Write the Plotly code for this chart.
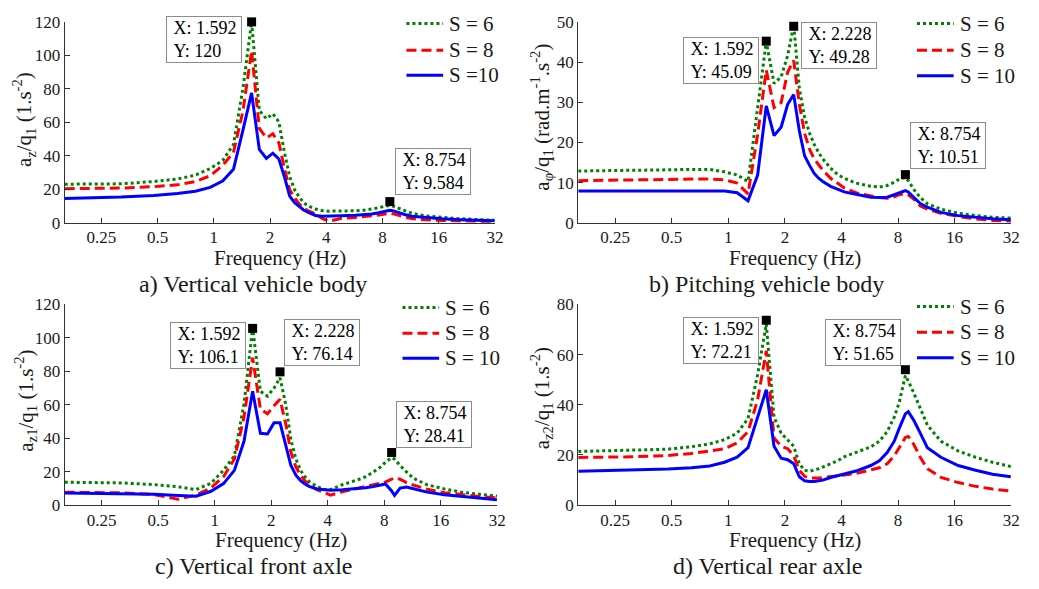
import math
import plotly.graph_objects as go

# ---------------- data ----------------
freq_hz = [0.159, 0.318, 0.477, 0.637, 0.796, 0.955, 1.114, 1.273, 1.432, 1.592,
           1.751, 1.910, 2.069, 2.228, 2.387, 2.546, 2.706, 2.865, 3.024, 3.183,
           3.501, 3.820, 4.138, 4.775, 5.730, 6.366, 7.003, 7.639, 8.117, 8.754,
           9.072, 9.708, 10.504, 11.459, 13.528, 16.711, 20.690, 25.465, 31.831]

# a) Vertical vehicle body
a_s6 = [23.1, 23.3, 24.7, 26.2, 28.5, 32.4, 37.2, 46.8, 80.5, 120.0,
        67.0, 62.2, 65.1, 60.3, 42.0, 27.6, 19.8, 15.4, 12.1, 10.2,
        8.3, 7.3, 7.0, 7.0, 7.2, 7.6, 8.2, 9.0, 9.8, 10.4,
        10.0, 8.8, 7.2, 5.8, 4.2, 3.2, 2.5, 2.0, 1.6]
a_s8 = [20.4, 20.8, 21.6, 22.7, 24.7, 28.1, 34.3, 42.0, 67.0, 102.7,
        56.4, 50.7, 53.2, 47.8, 32.4, 19.8, 15.0, 11.2, 8.7, 7.3,
        5.4, 2.5, 1.0, 2.6, 3.2, 3.6, 4.1, 4.7, 5.2, 5.8,
        5.5, 4.5, 3.4, 2.6, 1.8, 1.4, 1.1, 0.9, 0.7]
a_s10 = [14.6, 15.4, 16.4, 17.5, 18.9, 21.2, 25.0, 32.0, 55.5, 77.6,
         43.9, 38.5, 41.6, 38.1, 27.5, 16.0, 12.1, 9.6, 7.7, 6.4,
         4.4, 3.9, 3.9, 4.2, 4.5, 4.8, 5.3, 6.0, 6.6, 7.5,
         7.3, 6.2, 5.0, 4.0, 3.1, 2.4, 1.9, 1.5, 1.2]

# b) Pitching vehicle body
b_s6 = [12.9, 13.0, 13.2, 13.3, 13.3, 12.7, 11.9, 10.3, 28.0, 45.09,
        34.7, 36.3, 41.6, 49.28, 33.5, 26.3, 22.3, 19.5, 17.5, 15.9,
        13.6, 12.0, 11.1, 9.9, 9.1, 8.9, 9.3, 10.1, 10.9, 11.3,
        10.5, 8.3, 6.3, 4.8, 3.4, 2.4, 1.8, 1.4, 1.2]
b_s8 = [10.5, 10.6, 10.8, 10.9, 10.9, 10.7, 9.9, 7.2, 22.0, 38.0,
        28.7, 29.9, 37.5, 40.4, 29.5, 22.3, 18.3, 15.9, 14.3, 13.1,
        11.1, 9.9, 8.7, 7.5, 6.7, 6.3, 6.1, 6.5, 7.0, 7.3,
        7.0, 5.9, 4.2, 3.4, 2.4, 1.6, 1.0, 0.6, 0.4]
b_s10 = [7.9, 7.9, 7.9, 7.9, 7.9, 7.9, 7.5, 5.5, 11.9, 29.1,
         21.7, 23.8, 29.5, 31.9, 22.9, 16.7, 14.3, 12.3, 11.1, 10.3,
         9.1, 8.3, 7.7, 7.1, 6.4, 6.3, 6.4, 7.0, 7.5, 8.0,
         7.7, 6.3, 4.8, 3.9, 2.6, 1.8, 1.4, 1.0, 0.8]

# c) Vertical front axle
c_s6 = [13.7, 13.3, 12.3, 11.0, 9.3, 13.1, 20.8, 29.5, 60.4, 106.1,
        68.1, 65.2, 70.0, 76.14, 60.4, 39.2, 27.6, 20.8, 17.0, 14.1,
        11.2, 9.3, 9.3, 12.2, 15.0, 17.0, 19.9, 22.8, 25.7, 28.41,
        27.6, 23.7, 19.9, 16.0, 12.2, 9.7, 7.7, 6.4, 5.4]
c_s8 = [7.7, 7.4, 6.3, 3.5, 6.0, 10.4, 17.0, 27.6, 52.6, 88.2,
        57.5, 54.6, 59.4, 63.3, 48.8, 31.5, 22.8, 17.9, 14.5, 12.3,
        9.3, 7.4, 6.0, 8.0, 10.0, 11.0, 12.0, 13.0, 13.8, 15.5,
        16.4, 15.5, 13.5, 12.0, 9.5, 7.5, 6.2, 5.2, 4.3]
c_s10 = [7.3, 7.0, 6.5, 5.8, 5.4, 8.3, 12.9, 20.8, 38.2, 68.1,
         43.0, 42.6, 49.2, 49.2, 35.2, 23.7, 17.9, 14.7, 12.6, 11.2,
         9.7, 9.3, 8.9, 9.2, 9.8, 10.4, 11.2, 12.2, 12.7, 8.5,
         5.8, 10.2, 10.8, 9.8, 7.8, 6.2, 5.2, 4.2, 3.2]

# d) Vertical rear axle
d_s6 = [21.4, 21.8, 22.3, 23.3, 24.4, 26.1, 28.7, 34.5, 52.0, 72.21,
        35.1, 28.7, 26.1, 23.5, 16.5, 13.9, 13.5, 13.9, 14.5, 15.2,
        16.5, 17.7, 19.3, 21.0, 23.2, 25.5, 29.3, 35.1, 40.9, 51.65,
        49.5, 44.7, 38.3, 31.9, 25.5, 21.6, 19.1, 17.1, 15.4]
d_s8 = [19.0, 19.3, 19.8, 20.6, 21.6, 22.5, 24.8, 29.3, 42.0, 61.5,
        26.8, 23.5, 22.5, 19.7, 13.9, 11.5, 10.8, 10.7, 10.8, 11.0,
        11.3, 11.7, 12.0, 12.6, 13.9, 14.9, 16.5, 19.7, 22.9, 27.0,
        27.4, 24.2, 19.1, 14.5, 11.1, 9.0, 7.5, 6.4, 5.6]
d_s10 = [13.5, 14.0, 14.4, 14.9, 15.6, 17.1, 19.1, 22.9, 34.9, 46.0,
         23.5, 18.7, 18.1, 16.5, 11.3, 9.7, 9.4, 9.4, 9.7, 10.0,
         11.0, 11.7, 12.3, 13.6, 15.8, 17.7, 21.0, 25.5, 30.6, 36.4,
         37.3, 33.8, 28.7, 22.9, 19.1, 15.8, 13.9, 12.3, 11.3]

# data tips: X, Y label values and where the marker is drawn
tip_x = {'a': [1.592, 8.754], 'b': [1.592, 2.228, 8.754],
         'c': [1.592, 2.228, 8.754], 'd': [1.592, 8.754]}
tip_y = {'a': [120, 9.584], 'b': [45.09, 49.28, 10.51],
         'c': [106.1, 76.14, 28.41], 'd': [72.21, 51.65]}
tip_marker_y = {'a': [120, 12.7], 'b': [45.2, 48.9, 12.0],
                'c': [105.7, 79.7, 31.5], 'd': [73.7, 54.0]}

legend_names = {'a': ['S = 6', 'S = 8', 'S =10'],
                'b': ['S = 6', 'S = 8', 'S = 10'],
                'c': ['S = 6', 'S = 8', 'S = 10'],
                'd': ['S = 6', 'S = 8', 'S = 10']}

x_tick_vals = [0.25, 0.5, 1, 2, 4, 8, 16, 32]
x_tick_text = ['0.25', '0.5', '1', '2', '4', '8', '16', '32']
y_max = {'a': 120, 'b': 50, 'c': 120, 'd': 80}
y_step = {'a': 20, 'b': 10, 'c': 20, 'd': 20}

y_titles = {'a': 'a<sub>z</sub>/q<sub>1</sub> (1.s<sup>-2</sup>)',
            'b': 'a<sub>φ</sub>/q<sub>1</sub> (rad.m<sup>-1</sup>.s<sup>-2</sup>)',
            'c': 'a<sub>z1</sub>/q<sub>1</sub> (1.s<sup>-2</sup>)',
            'd': 'a<sub>z2</sub>/q<sub>1</sub> (1.s<sup>-2</sup>)'}
subtitles = {'a': 'a) Vertical vehicle body', 'b': 'b) Pitching vehicle body',
             'c': 'c) Vertical front axle', 'd': 'd) Vertical rear axle'}
x_title = 'Frequency (Hz)'

series = {'a': [a_s6, a_s8, a_s10], 'b': [b_s6, b_s8, b_s10],
          'c': [c_s6, c_s8, c_s10], 'd': [d_s6, d_s8, d_s10]}

# ---------------- styles / layout ----------------
W, H = 1039, 589
FONT = 'Liberation Serif'
INK = '#1a1a1a'
AX = '#333333'
line_styles = [dict(color='#008000', width=3, dash='dot'),
               dict(color='#ff0000', width=3, dash='10px,5px'),
               dict(color='#0000ff', width=3, dash='solid')]

def fx(p):
    return p / W

def fy(p):
    return 1 - p / H

# pixel boxes of plot areas: left, right, top, bottom
boxes = {'a': (65.3, 499.3, 13.3, 221.0), 'b': (583.3, 1020.0, 13.3, 221.0),
         'c': (65.3, 501.7, 305.3, 512.7), 'd': (583.3, 1020.0, 305.3, 512.7)}
# legend: line start x, rows centre y (px)
legend_x = {'a': 410, 'b': 925, 'c': 406, 'd': 925}
legend_rows = {'a': (15, 42.5, 68.5), 'b': (15, 42.5, 69),
               'c': (308.5, 335, 361), 'd': (307.5, 334, 360.5)}
LEG_LINE = 37
LEG_GAP = 5
ytitle_pos = {'a': (24, 114), 'b': (546, 112), 'c': (26, 405), 'd': (546, 402)}
xtitle_y = {'a': 257.5, 'b': 257.5, 'c': 549, 'd': 549}
sub_pos = {'a': (255, 284), 'b': (773.5, 284), 'c': (255.5, 576), 'd': (774, 576)}
tip_offsets = {'a': [(-48, 18), (43, -30)],
               'b': [(-45, 19), (45, 19), (43, -29)],
               'c': [(-45, 17), (42, -29), (42, -28)],
               'd': [(-45, 20), (-42, -27)]}

fig = go.Figure()
layout = dict(width=W, height=H, margin=dict(l=0, r=0, t=0, b=0),
              paper_bgcolor='white', plot_bgcolor='white',
              font=dict(family=FONT, color=INK), showlegend=False)
annotations = []
shapes = []

for i, key in enumerate(['a', 'b', 'c', 'd']):
    n = '' if i == 0 else str(i + 1)
    xa, ya = 'x' + n, 'y' + n
    l, r, t, b = boxes[key]
    layout['xaxis' + n] = dict(
        type='log', domain=[fx(l), fx(r)],
        range=[math.log10(freq_hz[0]), math.log10(32)],
        tickmode='array', tickvals=x_tick_vals, ticktext=x_tick_text,
        ticks='inside', ticklen=5, tickcolor=AX, tickwidth=1,
        ticklabelstandoff=-1,
        showline=True, linecolor=AX, linewidth=1, mirror=False,
        showgrid=False, zeroline=False, anchor=ya,
        tickfont=dict(family=FONT, size=17, color=INK))
    layout['yaxis' + n] = dict(
        domain=[fy(b), fy(t)], range=[0, y_max[key]],
        tickmode='array', tickvals=list(range(0, y_max[key] + 1, y_step[key])),
        ticks='inside', ticklen=5, tickcolor=AX, tickwidth=1,
        showline=True, linecolor=AX, linewidth=1, mirror=False,
        showgrid=False, zeroline=False, anchor=xa,
        tickfont=dict(family=FONT, size=17, color=INK))
    for s, vals in enumerate(series[key]):
        fig.add_trace(go.Scatter(x=freq_hz, y=vals, mode='lines',
                                 line=line_styles[s], name=legend_names[key][s],
                                 xaxis=xa, yaxis=ya, hoverinfo='skip'))
        # legend entry (drawn in paper space)
        lx0 = legend_x[key]
        ry = legend_rows[key][s]
        shapes.append(dict(type='line', xref='paper', yref='paper',
                           x0=fx(lx0), x1=fx(lx0 + LEG_LINE), y0=fy(ry), y1=fy(ry),
                           line=line_styles[s]))
        annotations.append(dict(x=fx(lx0 + LEG_LINE + LEG_GAP), y=fy(ry),
                                xref='paper', yref='paper', showarrow=False,
                                xanchor='left', yanchor='middle', borderpad=0,
                                text=legend_names[key][s],
                                font=dict(family=FONT, size=21, color=INK)))
    fig.add_trace(go.Scatter(x=tip_x[key], y=tip_marker_y[key], mode='markers',
                             marker=dict(symbol='square', size=9, color='black',
                                         line=dict(width=0)),
                             xaxis=xa, yaxis=ya, showlegend=False, cliponaxis=False,
                             hoverinfo='skip'))
    for (tx, ty, my), (ox, oy) in zip(zip(tip_x[key], tip_y[key], tip_marker_y[key]),
                                      tip_offsets[key]):
        annotations.append(dict(
            x=math.log10(tx), y=my, xref=xa, yref=ya, showarrow=False,
            xanchor='center', yanchor='middle', xshift=ox, yshift=-oy,
            text='\u00a0X: %g<br>\u00a0Y: %g' % (tx, ty), align='left',
            width=70, height=41, borderpad=2,
            bgcolor='white', bordercolor='#8c8c8c', borderwidth=1,
            font=dict(family=FONT, size=18, color='black')))
    # axis titles and subtitles
    yx, yy = ytitle_pos[key]
    annotations.append(dict(x=fx(yx), y=fy(yy), xref='paper', yref='paper',
                            text=y_titles[key], textangle=-90, showarrow=False,
                            xanchor='center', yanchor='middle',
                            font=dict(family=FONT, size=21, color=INK)))
    annotations.append(dict(x=fx((l + r) / 2), y=fy(xtitle_y[key]), xref='paper',
                            yref='paper', text=x_title, showarrow=False,
                            xanchor='center', yanchor='middle',
                            font=dict(family=FONT, size=21, color=INK)))
    sx, sy = sub_pos[key]
    annotations.append(dict(x=fx(sx), y=fy(sy), xref='paper', yref='paper',
                            text=subtitles[key], showarrow=False,
                            xanchor='center', yanchor='middle',
                            font=dict(family=FONT, size=24, color=INK)))

layout['annotations'] = annotations
layout['shapes'] = shapes
fig.update_layout(**layout)
fig.write_html('out.html',
               config={'displayModeBar': False},
               post_script="document.body.style.margin='0px';"
                           "document.documentElement.style.overflow='hidden';")
